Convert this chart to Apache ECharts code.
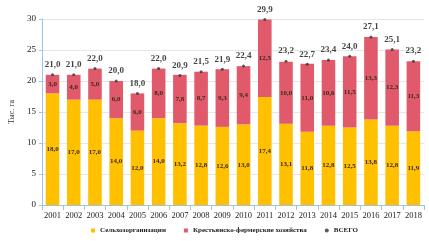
<!DOCTYPE html>
<html>
<head>
<meta charset="utf-8">
<script src="https://cdn.jsdelivr.net/npm/echarts@6/dist/echarts.min.js"></script>
<style>
  html, body { margin: 0; padding: 0; background: #fff; }
  #chart { width: 429px; height: 241px; }
</style>
</head>
<body>
<div id="chart"></div>
<script>
const years = ['2001', '2002', '2003', '2004', '2005', '2006', '2007', '2008', '2009',
  '2010', '2011', '2012', '2013', '2014', '2015', '2016', '2017', '2018'];
const agroOrgs = [18.0, 17.0, 17.0, 14.0, 12.0, 14.0, 13.2, 12.8, 12.6,
  13.0, 17.4, 13.1, 11.8, 12.8, 12.5, 13.8, 12.8, 11.9];
const farms = [3.0, 4.0, 5.0, 6.0, 6.0, 8.0, 7.8, 8.7, 9.3,
  9.4, 12.5, 10.0, 11.0, 10.6, 11.5, 13.3, 12.3, 11.3];
const totals = [21.0, 21.0, 22.0, 20.0, 18.0, 22.0, 20.9, 21.5, 21.9,
  22.4, 29.9, 23.2, 22.7, 23.4, 24.0, 27.1, 25.1, 23.2];

const serif = '"Liberation Serif", "DejaVu Serif", serif';
const fmt = v => v.toFixed(1).replace('.', ',');

const chart = echarts.init(document.getElementById('chart'), null, { renderer: 'canvas' });

const innerLabel = {
  show: true,
  position: 'inside',
  fontFamily: serif,
  fontSize: 7,
  fontWeight: 'bold',
  color: '#3a2a1a',
  formatter: p => fmt(p.value)
};

chart.setOption({
  animation: false,
  backgroundColor: '#fff',
  textStyle: { fontFamily: serif },
  grid: { left: 32, right: 5, top: 19, bottom: 36 },
  legend: {
    bottom: 2,
    left: 86,
    itemWidth: 4,
    itemHeight: 4,
    itemGap: 18,
    textStyle: { fontFamily: serif, fontSize: 7, fontWeight: 'bold', color: '#222' },
    data: [
      { name: 'Сельхозорганизации', icon: 'rect' },
      { name: 'Крестьянско-фермерские хозяйства', icon: 'rect' },
      { name: 'ВСЕГО', icon: 'circle' }
    ]
  },
  xAxis: {
    type: 'category',
    data: years,
    axisLine: { lineStyle: { color: '#9dc3e6' } },
    axisTick: { show: true, lineStyle: { color: '#9dc3e6' } },
    axisLabel: { interval: 0, fontFamily: serif, fontSize: 8.5, color: '#222', margin: 6 }
  },
  yAxis: {
    type: 'value',
    min: 0,
    max: 30,
    interval: 5,
    name: 'Тыс. га',
    nameLocation: 'middle',
    nameGap: 20,
    nameTextStyle: { fontFamily: serif, fontSize: 8, color: '#333' },
    axisLine: { show: true, lineStyle: { color: '#9dc3e6' } },
    axisTick: { show: true, length: 3, lineStyle: { color: '#9dc3e6' } },
    axisLabel: { fontFamily: serif, fontSize: 9, color: '#222', margin: 6 },
    splitLine: { lineStyle: { color: '#e6e6e6' } }
  },
  series: [
    {
      name: 'Сельхозорганизации',
      type: 'bar',
      stack: 'area',
      barCategoryGap: '36%',
      data: agroOrgs,
      itemStyle: { color: '#ffc000' },
      label: innerLabel
    },
    {
      name: 'Крестьянско-фермерские хозяйства',
      type: 'bar',
      stack: 'area',
      data: farms,
      itemStyle: { color: '#e05a6c' },
      label: innerLabel
    },
    {
      name: 'ВСЕГО',
      type: 'scatter',
      data: totals,
      symbol: 'circle',
      symbolSize: 3,
      itemStyle: { color: '#333' },
      label: {
        show: true,
        position: 'top',
        distance: 4,
        fontFamily: serif,
        fontSize: 9,
        fontWeight: 'bold',
        color: '#111',
        formatter: p => fmt(p.value)
      }
    }
  ]
});

window.addEventListener('resize', function () {
  chart.resize();
});
</script>
</body>
</html>
